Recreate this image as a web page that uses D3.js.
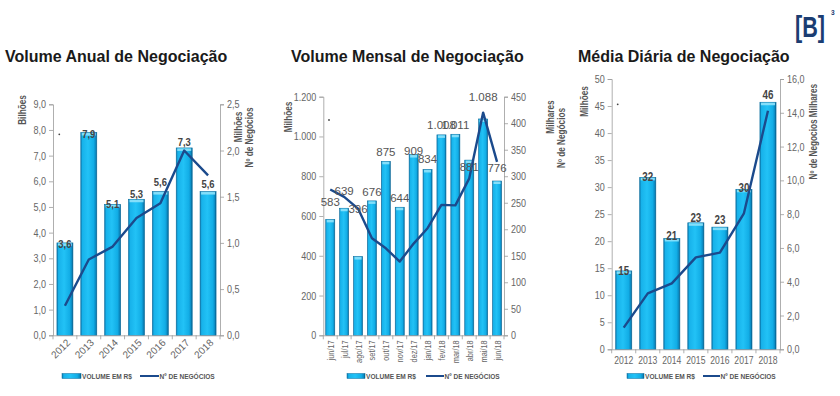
<!DOCTYPE html>
<html><head><meta charset="utf-8">
<script src="https://cdn.jsdelivr.net/npm/d3@7"></script>
<style>
body{margin:0;background:#fff;}
svg{display:block;font-family:"Liberation Sans",Arial,sans-serif;}
</style></head>
<body><svg id="c" width="840" height="396"></svg>
<script>
// ---------- DATA ----------
const years = ["2012","2013","2014","2015","2016","2017","2018"];
const anualVolume = [3.6, 7.9, 5.1, 5.3, 5.6, 7.3, 5.6];          // bilhões
const anualNegocios = [0.32, 0.82, 0.96, 1.27, 1.43, 2.0, 1.73];   // milhões
const anualLabels = ["3,6","7,9","5,1","5,3","5,6","7,3","5,6"];
const anualLeftTicks = [0,1,2,3,4,5,6,7,8,9];
const anualRightTicks = [0,0.5,1,1.5,2,2.5];

const months = ["jun/17","jul/17","ago/17","set/17","out/17","nov/17","dez/17","jan/18","fev/18","mar/18","abr/18","mai/18","jun/18"];
const mensalVolume = [583, 639, 396, 676, 875, 644, 909, 834, 1008, 1011, 881, 1088, 776]; // milhões
const mensalNegocios = [275, 261, 239, 183, 164, 139, 173, 202, 246, 245, 296, 420, 327];  // milhares
const mensalLabels = ["583","639","396","676","875","644","909","834","1.008","1.011","881","1.088","776"];
const mensalLeftTicks = [0,200,400,600,800,1000,1200];
const mensalRightTicks = [0,50,100,150,200,250,300,350,400,450];

const diariaVolume = [14.5, 31.8, 20.5, 23.4, 22.6, 29.6, 45.7];   // milhões
const diariaNegocios = [1.28, 3.31, 3.9, 5.44, 5.72, 8.05, 14.12]; // milhares
const diariaLabels = ["15","32","21","23","23","30","46"];
const diariaLeftTicks = [0,5,10,15,20,25,30,35,40,45,50];
const diariaRightTicks = [0,2,4,6,8,10,12,14,16];

const titles = ["Volume Anual de Negociação","Volume Mensal de Negociação","Média Diária de Negociação"];
const legendNames = ["VOLUME EM R$","Nº DE NEGÓCIOS"];

// label offsets (layout only, px above bar top)
const anualLabelDy = [-1,-1,0,5,10,6,8];
const mensalLabelDy = [17,17,48,9,9,9,4,10,10,9,-7,22,13];
const diariaLabelDy = [0,0,2,5,7,1,7];

// ---------- STYLE ----------
const navy = "#1b4a8c";
const axisCol = "#9a9a9a";
const tickCol = "#666";
const BASE = '"Liberation Sans",Arial,sans-serif';
const svg = d3.select("#c");

const defs = svg.append("defs");
const g = defs.append("linearGradient").attr("id","barGrad").attr("x1","0").attr("x2","1").attr("y1","0").attr("y2","0");
[[0,"#0b78ad"],[0.1,"#17b2ea"],[0.45,"#22c2f6"],[0.8,"#12ade6"],[0.92,"#0b8cc4"],[1,"#055b86"]].forEach(([o,c])=>g.append("stop").attr("offset",o).attr("stop-color",c));

// Titles
const titleX = [5, 291, 578];
titles.forEach((t,i)=>svg.append("text").attr("x",titleX[i]).attr("y",62).attr("font-size",16).attr("font-weight","bold").attr("fill","#1a1a1a").text(t));

// Logo
const logo = svg.append("g").attr("fill","#1b3d72");
logo.append("text").attr("x",795).attr("y",37).attr("font-size",29).attr("font-weight","bold")
  .attr("textLength",30).attr("lengthAdjust","spacingAndGlyphs").text("[B]");
logo.append("text").attr("x",831).attr("y",15).attr("font-size",8).attr("font-weight","bold").attr("class","nar").text("3");

function drawChart(cfg){
  const gC = svg.append("g");
  const x = d3.scaleBand().domain(cfg.cats).range([cfg.x0,cfg.x1]).paddingInner(cfg.pad).paddingOuter(cfg.pad/2);
  const yL = d3.scaleLinear().domain([0,cfg.leftMax]).range([cfg.yB,cfg.yT]);
  const yR = d3.scaleLinear().domain([0,cfg.rightMax]).range([cfg.yB,cfg.yT]);

  // bars
  const bars = gC.selectAll("g.bar").data(cfg.vol).enter().append("g");
  bars.append("rect").attr("x",(d,i)=>x(cfg.cats[i])).attr("y",d=>yL(d)).attr("width",x.bandwidth()).attr("height",d=>cfg.yB-yL(d))
    .attr("fill","url(#barGrad)").attr("stroke","#0a6d9e").attr("stroke-width",0.6);
  bars.append("rect").attr("x",(d,i)=>x(cfg.cats[i])+1).attr("y",d=>yL(d)+0.5).attr("width",x.bandwidth()-2).attr("height",2.5)
    .attr("fill","#8fe2fb").attr("opacity",0.9);

  // axes
  const axL = gC.append("g").attr("transform",`translate(${cfg.x0},0)`)
    .call(d3.axisLeft(yL).tickValues(cfg.leftTicks).tickSize(4).tickPadding(3).tickFormat(cfg.leftFmt));
  const axR = gC.append("g").attr("transform",`translate(${cfg.x1},0)`)
    .call(d3.axisRight(yR).tickValues(cfg.rightTicks).tickSize(4).tickPadding(3).tickFormat(cfg.rightFmt));
  const axB = gC.append("g").attr("transform",`translate(0,${cfg.yB})`).call(d3.axisBottom(x).tickSize(0).tickFormat(""));
  const bounds = cfg.cats.map(c=>x(c)-x.step()*x.paddingInner()/2).concat([cfg.x1]);
  gC.append("g").selectAll("line").data(bounds).enter().append("line")
    .attr("x1",d=>d).attr("x2",d=>d).attr("y1",cfg.yB).attr("y2",cfg.yB+4).attr("stroke",axisCol).attr("stroke-width",0.8);
  [axL,axR,axB].forEach(a=>{a.select(".domain").attr("stroke",axisCol).attr("stroke-width",0.8);
    a.selectAll(".tick line").attr("stroke",axisCol).attr("stroke-width",0.8);
    a.selectAll("text").attr("fill",tickCol).attr("font-size",cfg.tickSize).attr("font-family",BASE).attr("class","nar");});

  // x labels
  const xl = gC.append("g").selectAll("text").data(cfg.cats).enter().append("text")
    .attr("fill",tickCol).attr("font-size",cfg.xSize).attr("class",cfg.xNarrow?"nar":null).text(d=>d);
  if(cfg.xRot===-45){
    xl.attr("text-anchor","end").attr("transform",d=>`translate(${x(d)+x.bandwidth()/2+6},${cfg.yB+8}) rotate(-45)`);
  } else if(cfg.xRot===-90){
    xl.attr("text-anchor","end").attr("transform",d=>`translate(${x(d)+x.bandwidth()/2+3.5},${cfg.yB+5}) rotate(-90)`);
  } else {
    xl.attr("text-anchor","middle").attr("x",d=>x(d)+x.bandwidth()/2).attr("y",cfg.yB+15);
  }

  // line
  const line = d3.line().x((d,i)=>x(cfg.cats[i])+x.bandwidth()/2).y(d=>yR(d));
  gC.append("path").datum(cfg.neg).attr("d",line).attr("fill","none").attr("stroke",navy).attr("stroke-width",2.4).attr("stroke-linejoin","round");

  // data labels
  gC.append("g").selectAll("text").data(cfg.vol).enter().append("text")
    .attr("x",(d,i)=>x(cfg.cats[i])+x.bandwidth()/2).attr("y",(d,i)=>yL(d)+4-cfg.dy[i])
    .attr("text-anchor","middle").attr("font-size",cfg.lblSize).attr("font-weight",cfg.lblWeight).attr("fill",cfg.lblCol)
    .attr("class",cfg.lblNarrow?"nar":null).text((d,i)=>cfg.labels[i]);

  // axis titles
  cfg.axisTitles.forEach(t=>{
    gC.append("text").attr("transform",`translate(${t.x},${t.y}) rotate(-90)`).attr("text-anchor","middle")
      .attr("font-size",t.size||10).attr("font-weight","bold").attr("class","nar").attr("fill","#555").text(t.text);
  });

  gC.append("circle").attr("cx",cfg.dot[0]).attr("cy",cfg.dot[1]).attr("r",0.9).attr("fill","#444");

  // legend
  const L = cfg.legend;
  gC.append("rect").attr("x",L.x).attr("y",L.y-2.5).attr("width",L.w).attr("height",5).attr("fill","url(#barGrad)").attr("stroke","#0a6d9e").attr("stroke-width",0.5);
  gC.append("text").attr("x",L.x+L.w+1).attr("y",L.y+2.8).attr("font-size",8).attr("font-weight","bold").attr("class","nar").attr("fill","#555").text(legendNames[0]);
  gC.append("line").attr("x1",L.x2).attr("x2",L.x2+L.w).attr("y1",L.y).attr("y2",L.y).attr("stroke",navy).attr("stroke-width",2);
  gC.append("text").attr("x",L.x2+L.w+0.5).attr("y",L.y+2.8).attr("font-size",8).attr("font-weight","bold").attr("class","nar").attr("fill","#555").text(legendNames[1]);
}

const f1 = d=>d3.format(".1f")(d).replace(".",",");
const fThousands = d=>d3.format(",")(d).replace(/,/g,".");

drawChart({cats:years, vol:anualVolume, neg:anualNegocios, labels:anualLabels, dy:anualLabelDy,
  x0:53, x1:220, yT:104.3, yB:335.3, pad:0.33, leftMax:9, rightMax:2.5,
  leftTicks:anualLeftTicks, rightTicks:anualRightTicks, leftFmt:f1, rightFmt:f1,
  tickSize:11, xSize:10, xNarrow:false, xRot:-45,
  lblSize:11.5, lblWeight:"bold", lblCol:"#444", lblNarrow:true,
  axisTitles:[{x:26,y:110,text:"Bilhões"},{x:242,y:127,text:"Milhões"},{x:253,y:137.5,text:"Nº de Negócios"}],
  dot:[59.3,134.3], legend:{x:62,y:376,x2:140,w:19}});

drawChart({cats:months, vol:mensalVolume, neg:mensalNegocios, labels:mensalLabels, dy:mensalLabelDy,
  x0:323.3, x1:504, yT:96.7, yB:335.3, pad:0.35, leftMax:1200, rightMax:450,
  leftTicks:mensalLeftTicks, rightTicks:mensalRightTicks, leftFmt:fThousands, rightFmt:d3.format("d"),
  tickSize:11, xSize:9, xNarrow:true, xRot:-90,
  lblSize:11.5, lblWeight:"normal", lblCol:"#555", lblNarrow:false,
  axisTitles:[{x:291.5,y:117,text:"Milhões"},{x:554,y:117,text:"Milhares"},{x:565,y:138,text:"Nº de Negócios"}],
  dot:[329,120], legend:{x:347,y:376,x2:426,w:18}});

drawChart({cats:years, vol:diariaVolume, neg:diariaNegocios, labels:diariaLabels, dy:diariaLabelDy,
  x0:611.7, x1:780, yT:79, yB:349.3, pad:0.33, leftMax:50, rightMax:16,
  leftTicks:diariaLeftTicks, rightTicks:diariaRightTicks, leftFmt:d3.format("d"), rightFmt:f1,
  tickSize:11, xSize:10.5, xNarrow:true, xRot:0,
  lblSize:12, lblWeight:"bold", lblCol:"#444", lblNarrow:true,
  axisTitles:[{x:587.5,y:101.5,text:"Milhões"},{x:816.5,y:131.7,text:"Nº de Negocios Milhares"}],
  dot:[617.7,104.3], legend:{x:627,y:376,x2:703,w:17}});

// simulate a narrow (condensed) face: compress glyphs horizontally
svg.selectAll("text.nar").attr("font-family",BASE).each(function(){
  const L = this.getComputedTextLength();
  d3.select(this).attr("textLength",(L*0.82).toFixed(2)).attr("lengthAdjust","spacingAndGlyphs");
});
</script></body></html>
